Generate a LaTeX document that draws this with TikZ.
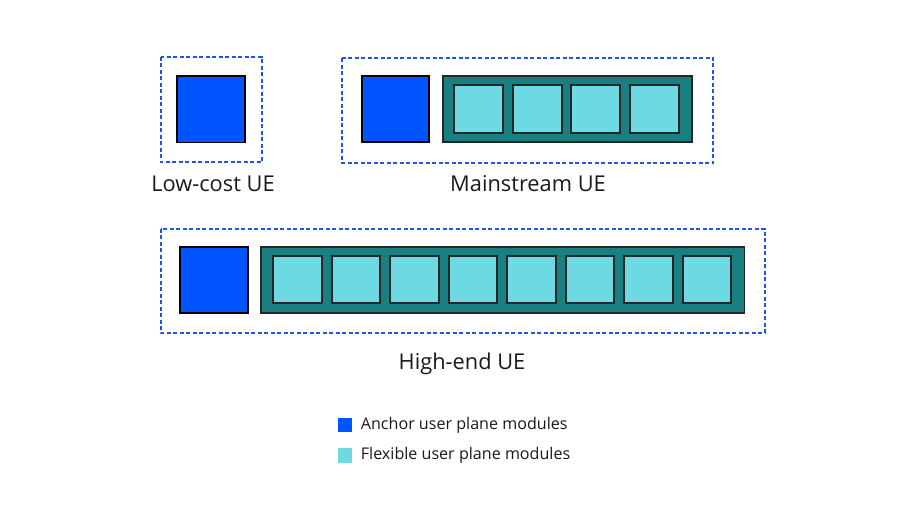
\documentclass[tikz,border=0pt]{standalone}
\usepackage{fontspec}
\setmainfont{Open Sans}
\definecolor{anchorblue}{HTML}{0055FF}
\definecolor{flexcyan}{HTML}{6DD9E3}
\definecolor{contteal}{HTML}{1A7F80}
\definecolor{dashblue}{HTML}{2255DD}
\begin{document}
\begin{tikzpicture}[x=1pt,y=-1pt,
  anchormod/.style={draw=black,line width=1.7pt,fill=anchorblue},
  flexmod/.style={draw=black!85,line width=1.7pt,fill=flexcyan},
  contbox/.style={draw=black!85,line width=1.7pt,fill=contteal},
  grpbox/.style={draw=dashblue,line width=1.7pt,dash pattern=on 4pt off 2.5pt},
  grplabel/.style={font=\fontsize{21.8}{26}\selectfont,text=black!90},
  legtext/.style={font=\fontsize{16.1}{19}\selectfont,text=black!90,anchor=west,inner sep=0pt}]
\useasboundingbox (0,0) rectangle (907,510);
% Low-cost UE
\draw[grpbox] (160.7,56.7) rectangle (261.7,162.3);
\node[grplabel] (lcl) at (213,184) {Low-cost UE};
\draw[anchormod] (177,76) rectangle (245,142.5);
% Mainstream UE
\draw[grpbox] (342.3,58.2) rectangle (713.3,163.3);
\node[grplabel] (msl) at (528,184) {Mainstream UE};
\draw[anchormod] (362,76) rectangle (429.3,142.3);
\draw[contbox] (442.7,76) rectangle (692.3,142.3);
\foreach \i in {0,...,3}{
  \draw[flexmod] ({454.3+58.5*\i},85) rectangle ({503.3+58.5*\i},132.7);
}
% High-end UE
\draw[grpbox] (160.7,229) rectangle (765,333.3);
\node[grplabel] (hel) at (462,364) {High-end UE};
\draw[anchormod] (180,246.7) rectangle (248,312.7);
\draw[contbox] (261,246.7) rectangle (744.5,312.7);
\foreach \i in {0,...,7}{
  \draw[flexmod] ({273.3+58.5*\i},256) rectangle ({321.7+58.5*\i},303.3);
}
% Legend
\fill[anchorblue] (338.3,418.3) rectangle (352.3,432.3);
\node[legtext] (la) at (360.7,425.3) {Anchor user plane modules};
\fill[flexcyan] (338.3,448.3) rectangle (352.3,462.7);
\node[legtext] (lf) at (360.7,455.5) {Flexible user plane modules};
\end{tikzpicture}
\end{document}
